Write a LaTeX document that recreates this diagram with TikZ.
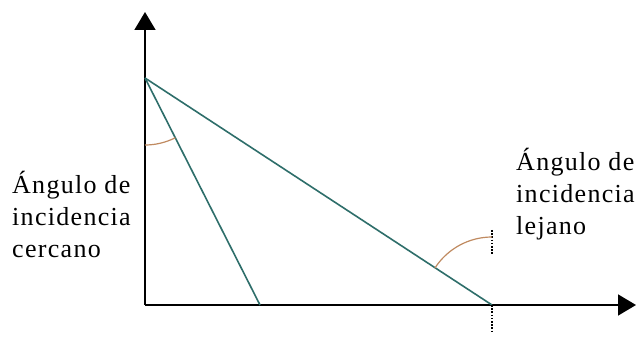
\documentclass[tikz,border=0pt]{standalone}
\usepackage{fontspec}
\setmainfont{Liberation Serif}[LetterSpace=5]
\usetikzlibrary{arrows.meta}
\definecolor{rayteal}{HTML}{2E6E6A}
\definecolor{arcbrown}{HTML}{C08A60}
\tikzset{
  axis/.style={line width=1.6pt, -{Triangle[length=18pt,width=21pt]}},
  ray/.style={rayteal, line width=1.6pt},
  anglearc/.style={arcbrown, line width=1.2pt},
  normal/.style={black, line width=1.6pt, dash pattern=on 1.6pt off 1.6pt},
  lbl/.style={anchor=base west, inner sep=0pt, align=left, font=\fontsize{26}{32}\selectfont}
}
\begin{document}
\begin{tikzpicture}[x=1pt,y=1pt]
\useasboundingbox (0,0) rectangle (643,343);
\fill[white] (0,0) rectangle (643,343);
\coordinate (O) at (145,38);
\coordinate (Ytip) at (145,331);
\coordinate (Xtip) at (636,38);
\coordinate (S) at (145,265);
\coordinate (F1) at (260,38);
\coordinate (F2) at (492,38);
\coordinate (N1a) at (492,113);
\coordinate (N1b) at (492,88);
\coordinate (N2b) at (492,10);
\draw[axis] (O) -- (Ytip);
\draw[axis] (O) -- (Xtip);
\draw[ray] (S) -- (F1);
\draw[ray] (S) -- (F2);
\draw[normal] (N1a) -- (N1b);
\draw[normal] (F2) -- (N2b);
\draw[anglearc] ([shift={(270:67)}]S) arc[start angle=270, end angle=297, radius=67];
\draw[anglearc] ([shift={(90:68)}]F2) arc[start angle=90, end angle=147, radius=68];
\node[lbl] (near) at (12,85) {Ángulo de\\incidencia\\cercano};
\node[lbl] (far) at (516,108) {Ángulo de\\incidencia\\lejano};
\end{tikzpicture}
\end{document}
